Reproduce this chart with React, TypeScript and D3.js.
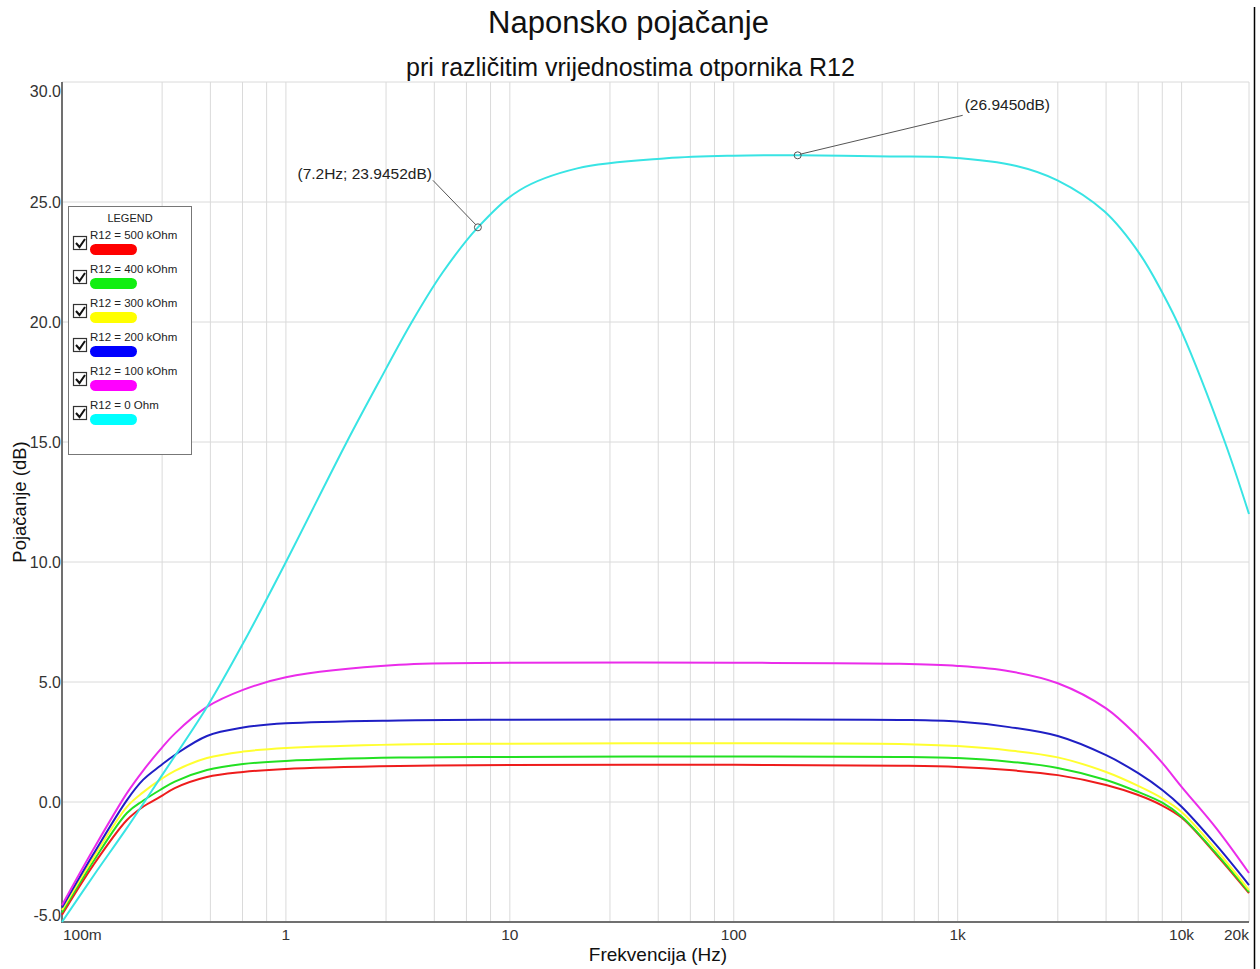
import React from "react";
import * as d3 from "d3";

// ---------- data ----------
const seriesLabels = [
  "R12 = 500 kOhm",
  "R12 = 400 kOhm",
  "R12 = 300 kOhm",
  "R12 = 200 kOhm",
  "R12 = 100 kOhm",
  "R12 = 0 Ohm",
];
const seriesColors = ["#ee1c1c", "#22e022", "#ffff30", "#1f1fc4", "#ea2cea", "#38e4e4"];
const legendColors = ["#ff0000", "#11ee11", "#ffff00", "#0000ff", "#ff00ff", "#00ffff"];

const freqs = [0.1, 0.1375, 0.195, 0.23, 0.274, 0.319, 0.444, 0.643, 1, 3.2, 10, 100, 550, 1000, 1700, 2800, 4600, 6400, 8200, 10000, 14300, 20000];
const dbR500 = [-4.7, -2.65, -0.75, -0.2, 0.21, 0.58, 1.04, 1.25, 1.38, 1.5, 1.54, 1.55, 1.51, 1.46, 1.33, 1.12, 0.71, 0.29, -0.15, -0.65, -2.2, -3.8];
const dbR400 = [-4.6, -2.5, -0.46, 0.05, 0.5, 0.85, 1.33, 1.58, 1.71, 1.85, 1.88, 1.9, 1.88, 1.83, 1.68, 1.42, 0.92, 0.42, -0.03, -0.6, -2.15, -3.75];
const dbR300 = [-4.5, -2.35, -0.2, 0.4, 0.92, 1.3, 1.83, 2.1, 2.25, 2.4, 2.43, 2.45, 2.42, 2.33, 2.15, 1.86, 1.25, 0.67, 0.15, -0.42, -2.0, -3.67];
const dbR200 = [-4.4, -2.2, 0.08, 0.92, 1.5, 1.96, 2.75, 3.1, 3.28, 3.4, 3.43, 3.44, 3.42, 3.35, 3.12, 2.75, 1.95, 1.2, 0.5, -0.2, -1.8, -3.46];
const dbR100 = [-4.3, -2.0, 0.37, 1.3, 2.17, 2.85, 3.96, 4.67, 5.2, 5.72, 5.8, 5.8, 5.76, 5.67, 5.45, 4.95, 3.9, 2.71, 1.63, 0.63, -1.1, -2.96];

const cyanFreq = [0.1, 0.14, 0.195, 0.28, 0.444, 0.656, 1, 1.87, 2.6, 3.65, 5, 7.2, 11.1, 20, 50, 100, 193, 500, 920, 1830, 2790, 4530, 6490, 8230, 10000, 15600, 20000];
const dbR0 = [-5.0, -3.0, -1.08, 1.12, 3.96, 6.75, 10, 15, 17.5, 20, 22.05, 23.9452, 25.5, 26.4, 26.82, 26.93, 26.945, 26.9, 26.85, 26.5, 25.9, 24.6, 22.85, 21.2, 19.6, 15.0, 12.0];

const xTickValues = [0.1, 1, 10, 100, 1000, 10000, 20000];
const xTickLabels = ["100m", "1", "10", "100", "1k", "10k", "20k"];
const yTickValues = [-5, 0, 5, 10, 15, 20, 25, 30];
const decades = [0.1, 1, 10, 100, 1000, 10000];
const gridSteps = [1, 2.8, 4.6, 6.4, 8.2];

const annFreq = [7.2, 193];
const annDb = [23.9452, 26.945];
const annLabels = ["(7.2Hz; 23.9452dB)", "(26.9450dB)"];

// ---------- chart ----------
const W = 1260;
const H = 969;
const FONT = "'Liberation Sans', Arial, sans-serif";

export default function App() {
  const x = d3.scaleLog().domain([0.1, 20000]).range([62, 1249]);
  const y = d3.scaleLinear().domain([-5, 30]).range([922, 82]);

  const line = d3
    .line<[number, number]>()
    .x((d) => x(d[0]))
    .y((d) => y(d[1]))
    .curve(d3.curveCatmullRom.alpha(0.5));

  const series: [number, number][][] = [
    freqs.map((f, i) => [f, dbR500[i]] as [number, number]),
    freqs.map((f, i) => [f, dbR400[i]] as [number, number]),
    freqs.map((f, i) => [f, dbR300[i]] as [number, number]),
    freqs.map((f, i) => [f, dbR200[i]] as [number, number]),
    freqs.map((f, i) => [f, dbR100[i]] as [number, number]),
    cyanFreq.map((f, i) => [f, dbR0[i]] as [number, number]),
  ];

  const vGrid: number[] = [];
  decades.forEach((d) => gridSteps.forEach((s) => { if (d * s <= 20000) vGrid.push(d * s); }));
  vGrid.push(20000);

  const [x0, x1] = x.range();
  const [yb, yt] = y.range();

  // annotation label placement (offsets from the marker)
  const annOffsets = [
    { dx: -46, dy: -48, anchor: "end", lx: -45, ly: -47 },
    { dx: 167, dy: -45, anchor: "start", lx: 165, ly: -40 },
  ];

  return (
    <svg
      width={W}
      height={H}
      style={{ position: "absolute", left: 0, top: 0, background: "#fff" }}
      fontFamily={FONT}
    >
      <rect x={0} y={0} width={W} height={H} fill="#fff" />
      {/* grid */}
      <g stroke="#dadada" strokeWidth={1}>
        {vGrid.map((f, i) => (
          <line key={"v" + i} x1={x(f)} x2={x(f)} y1={yt} y2={yb} />
        ))}
        {yTickValues.map((v, i) => (
          <line key={"h" + i} x1={x0} x2={x1} y1={y(v)} y2={y(v)} />
        ))}
      </g>
      {/* axes */}
      <line x1={x0} x2={x0} y1={yt} y2={yb + 1} stroke="#707070" strokeWidth={2} />
      <line x1={x0} x2={x1} y1={yb} y2={yb} stroke="#707070" strokeWidth={2} />

      {/* y tick labels */}
      <g fontSize={16} fill="#333" textAnchor="end">
        {yTickValues.map((v, i) => {
          let yy = y(v) + 6;
          if (v === 30) yy = y(v) + 15;
          if (v === -5) yy = y(v) - 1;
          return (
            <text key={"yt" + i} x={x0 - 1} y={yy}>
              {v.toFixed(1)}
            </text>
          );
        })}
      </g>
      {/* x tick labels */}
      <g fontSize={15.5} fill="#333">
        {xTickValues.map((v, i) => (
          <text
            key={"xt" + i}
            x={i === 0 ? x(v) + 1 : x(v)}
            y={940}
            textAnchor={i === 0 ? "start" : i === xTickValues.length - 1 ? "end" : "middle"}
          >
            {xTickLabels[i]}
          </text>
        ))}
      </g>

      {/* curves */}
      <g fill="none" strokeWidth={2}>
        {series.map((s, i) => (
          <path key={"s" + i} d={line(s) || ""} stroke={seriesColors[i]} />
        ))}
      </g>

      {/* annotations */}
      {annFreq.map((f, i) => {
        const cx = x(f);
        const cy = y(annDb[i]);
        const o = annOffsets[i];
        return (
          <g key={"a" + i}>
            <line x1={cx + (i === 0 ? -2 : 2)} y1={cy + (i === 0 ? -2.5 : -1)} x2={cx + o.lx} y2={cy + o.ly} stroke="#555" strokeWidth={1} />
            <circle cx={cx} cy={cy} r={3.5} fill="none" stroke="#555" strokeWidth={1} />
            <text x={cx + o.dx} y={cy + o.dy} fontSize={15.5} fill="#222" textAnchor={o.anchor as any}>
              {annLabels[i]}
            </text>
          </g>
        );
      })}

      {/* legend */}
      <g>
        <rect x={68.5} y={206.5} width={123} height={248} fill="#fff" stroke="#777" strokeWidth={1} />
        <text x={130} y={222} fontSize={11} textAnchor="middle" fill="#222">LEGEND</text>
        {seriesLabels.map((lab, i) => {
          const base = 236 + 34 * i;
          return (
            <g key={"l" + i}>
              <rect x={73.5} y={base + 0.5} width={13} height={13} fill="#fff" stroke="#333" strokeWidth={1.2} />
              <path d={`M${76},${base + 7} L${79.5},${base + 11} L${85},${base + 3}`} fill="none" stroke="#111" strokeWidth={2} />
              <text x={90} y={base + 3} fontSize={11.5} fill="#222">{lab}</text>
              <rect x={90} y={base + 8} width={47} height={11} rx={5.5} fill={legendColors[i]} />
            </g>
          );
        })}
      </g>

      {/* titles */}
      <text x={628.5} y={33} fontSize={31} textAnchor="middle" fill="#111">Naponsko pojačanje</text>
      <text x={630.5} y={76} fontSize={25} textAnchor="middle" fill="#111">pri različitim vrijednostima otpornika R12</text>
      <text x={658} y={961} fontSize={19} textAnchor="middle" fill="#111">Frekvencija (Hz)</text>
      <text transform="translate(26,502) rotate(-90)" fontSize={18.5} textAnchor="middle" fill="#111">Pojačanje (dB)</text>

      {/* right window edge */}
      <line x1={1254.5} x2={1254.5} y1={7} y2={H} stroke="#000" strokeWidth={1.5} />
    </svg>
  );
}
